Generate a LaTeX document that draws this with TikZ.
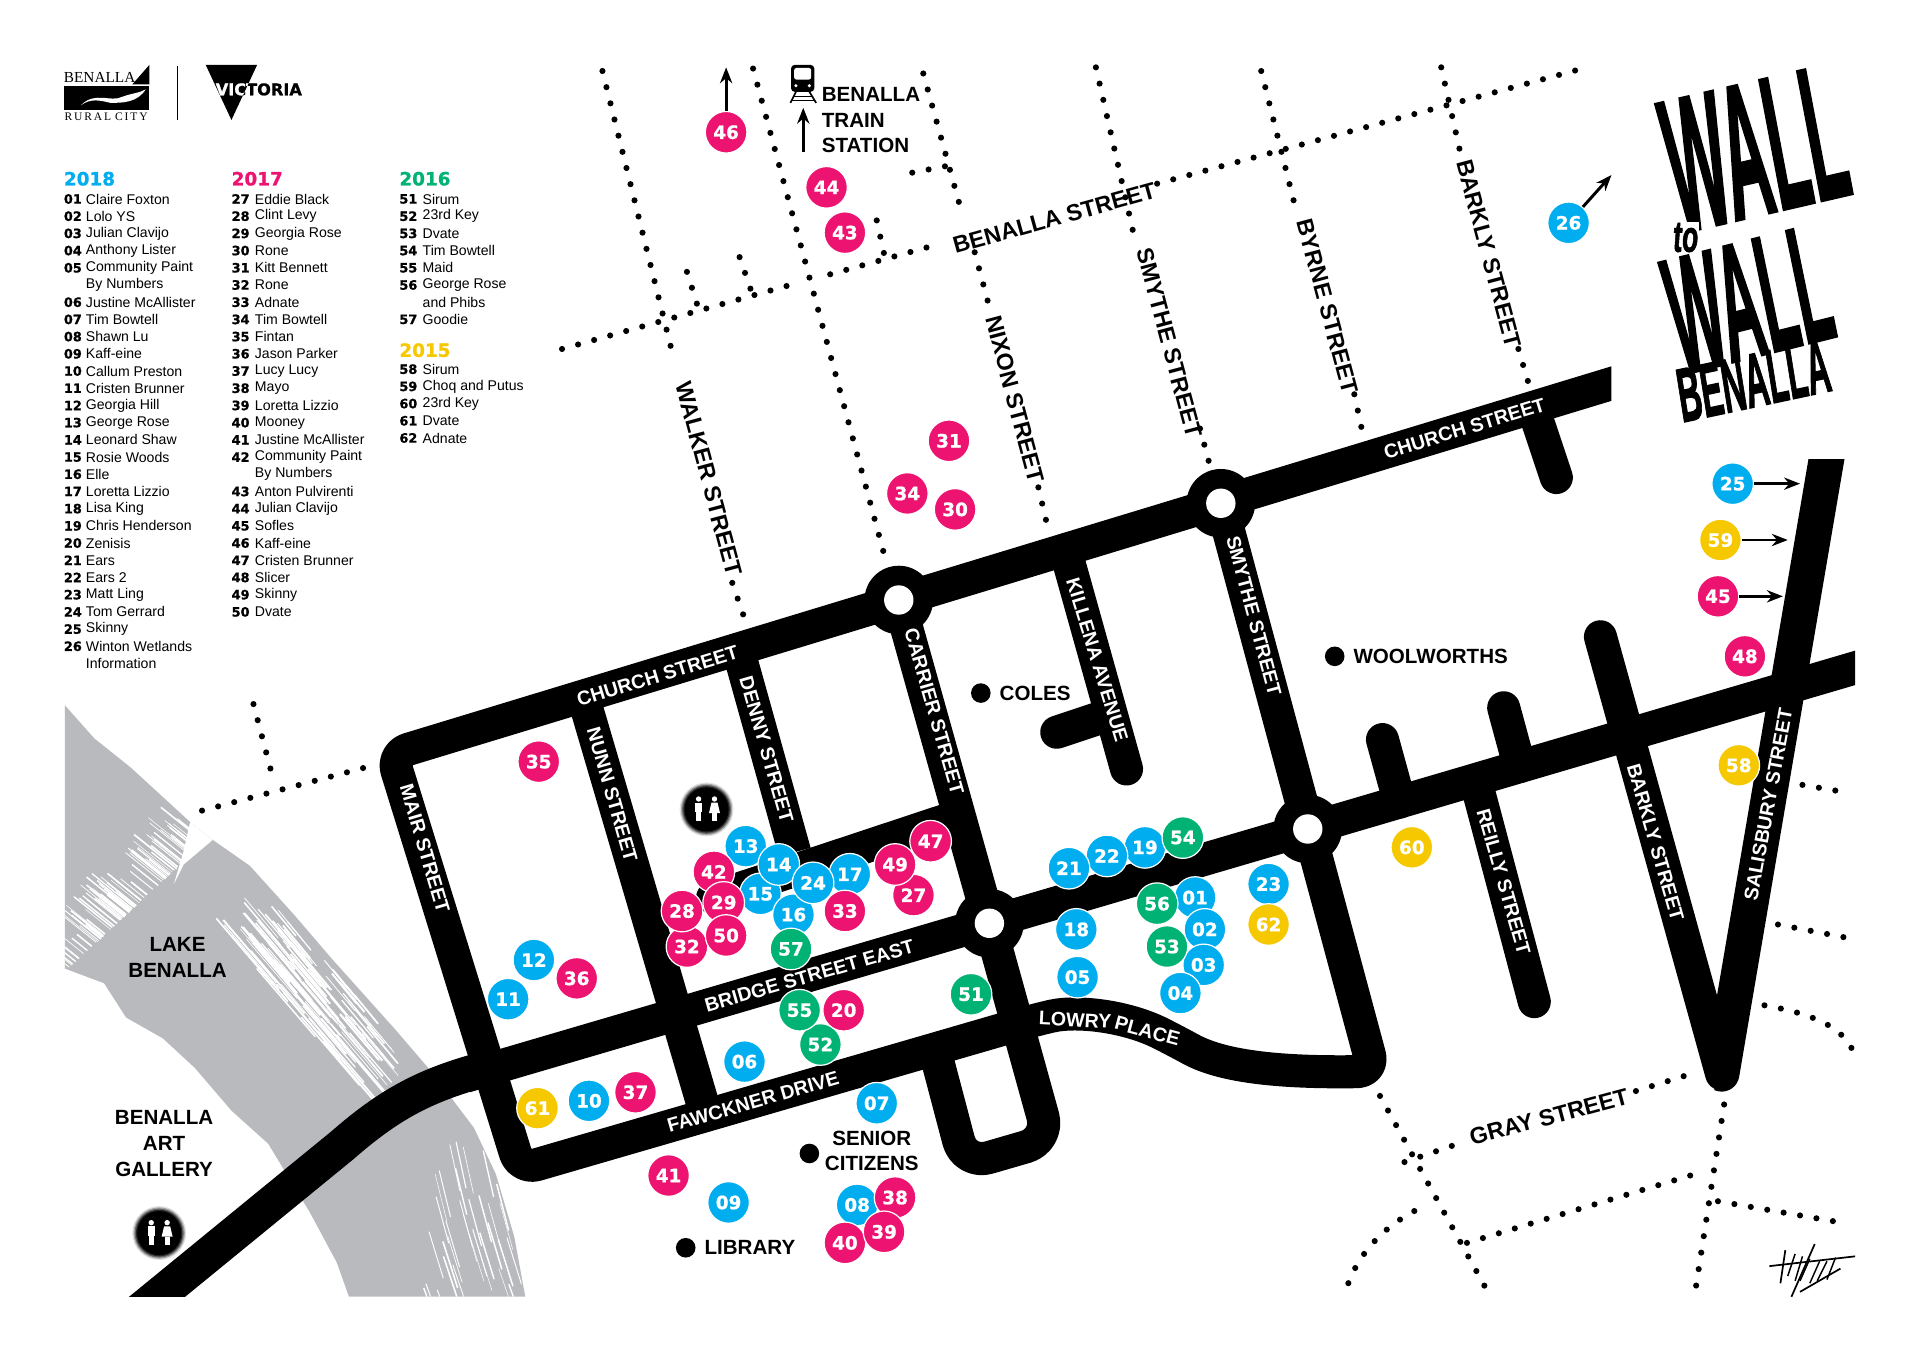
\documentclass[tikz,border=0pt]{standalone}
\usepackage{fontspec}
\usetikzlibrary{arrows.meta}
\setmainfont{Liberation Sans}
\newfontfamily\numfont[FakeBold=1]{DejaVu Sans}
\newfontfamily\brushfont[FakeSlant=0.12,FakeBold=2]{Liberation Sans}
\definecolor{blueyear}{HTML}{00AEEF}
\definecolor{pinkyear}{HTML}{ED1370}
\definecolor{greenyear}{HTML}{00B274}
\definecolor{yellowyear}{HTML}{F5C800}
\definecolor{lakegrey}{HTML}{B9BABD}
\newcommand{\sz}[1]{\fontsize{#1}{#1}\selectfont}
\tikzset{
  road/.style={line width=27pt,line join=round},
  roadend/.style={road,line cap=round},
  dotroad/.style={line width=5pt,line cap=round,dash pattern=on 0pt off 13.6pt},
  numtag/.style={circle,minimum size=34pt,inner sep=0pt,draw=white,line width=1pt,text=white,font=\numfont\bfseries\sz{15}},
  legnum/.style={anchor=west,inner sep=0pt,font=\numfont\bfseries\sz{10.5}},
  legname/.style={anchor=west,inner sep=0pt,font=\sz{11.5}},
  legyear/.style={anchor=west,inner sep=0pt,font=\numfont\bfseries\sz{15}},
  whitelabel/.style={text=white,inner sep=0pt,font=\bfseries\sz{16}},
  blacklabel/.style={inner sep=0pt,font=\bfseries\sz{19}},
  placelabel/.style={inner sep=0pt,align=center,font=\bfseries\sz{16.8}},
  placedot/.style={circle,fill=black,minimum size=16pt,inner sep=0pt},
  pointer/.style={line width=2.4pt,-{Stealth[length=13pt,width=10pt]}},
  brush/.style={inner sep=0pt,font=\brushfont\bfseries},
  toilet/.pic={
    \foreach \r/\o in {22/.12,21/.25,20/.4,19/.6,18/1}{
      \fill[black,opacity=\o] (0,0) circle (\r);
    }
    \fill[white] (-6.5,-8.5) circle (2.2);
    \fill[white] (-9.5,-5.5) rectangle (-3.5,2);
    \fill[white] (-8.5,2) rectangle (-4.5,9.5);
    \fill[white] (6.5,-8.5) circle (2.2);
    \fill[white] (4,-5.5) -- (9,-5.5) -- (11,3) -- (2,3) -- cycle;
    \fill[white] (4.5,3) rectangle (8.5,9.5);
  }
}
\begin{document}
\begin{tikzpicture}[x=1pt,y=-1pt]
\useasboundingbox (0,0) rectangle (1568,1112.3);

% lake
\begin{scope}
  \clip (53,576) -- (77,603) -- (107,627) -- (156,672) -- (171,684) -- (204,707) -- (241,748) -- (271,783) -- (323,841) -- (353,876) -- (387,921) -- (405,959) -- (420,1010) -- (429,1059) -- (285,1059) -- (275,1031) -- (253,990) -- (219,934) -- (189,907) -- (159,872) -- (133,848) -- (103,831) -- (85,803) -- (53,791) -- cycle;
  \fill[lakegrey] (0,500) rectangle (500,1100);
  \pgfmathsetseed{11}
  \fill[white] (156,668) -- (176,684) -- (150,706) -- (142,722) -- (150,695) -- cycle;
  \foreach \k in {1,...,95}{
    \pgfmathsetmacro{\t}{rnd}
    \pgfmathsetmacro{\u}{rnd}
    \pgfmathsetmacro{\w}{0.4+1*rnd}
    \pgfmathsetmacro{\l}{12+24*rnd}
    \draw[white,line width=\w pt] ({166-112*\t+10*\u},{688+104*\t-8*\u}) -- ++({-\l},{-0.8*\l});
  }
  \foreach \k in {1,...,110}{
    \pgfmathsetmacro{\t}{rnd}
    \pgfmathsetmacro{\u}{rnd}
    \pgfmathsetmacro{\w}{0.5+1.1*rnd}
    \draw[white,line width=\w pt] ({212+100*\t-40*\u},{725+110*\t+25*\u}) -- ++({18+30*\u},{22+34*\u});
  }
  \foreach \k in {1,...,40}{
    \pgfmathsetmacro{\t}{rnd}
    \pgfmathsetmacro{\u}{rnd}
    \pgfmathsetmacro{\w}{0.4+0.9*rnd}
    \draw[white,line width=\w pt] ({345+80*\t},{930+125*\u}) -- ++({8+6*\u},{38});
  }
\end{scope}

% roads
\begin{scope}
  \clip (0,0) rectangle (1515,1059);
  \draw[road,line width=29pt] (400,872) .. controls (350,885) and (320,900) .. (280,935) -- (110,1074);
  \draw[road] (380,879) -- (1068,677) -- (1530,541);
  \draw[road] (476,568) -- (577,912);
  \draw[road] (603,531) -- (649,696);
  \draw[roadend] (582,733) -- (772,670);
  \draw[road] (734,490) -- (808,754);
  \draw[road,rounded corners=20pt] (808,754) -- (857,931) -- (788,951) -- (764,860);
  \draw[roadend] (870,449) -- (920,628);
  \draw[roadend] (863,598) -- (905,584);
  \draw[roadend] (1129,604) -- (1143,655);
  \draw[roadend] (1228,578) -- (1241,626);
  \draw[roadend] (1205,637) -- (1253,818);
  \draw[roadend] (1307,520) -- (1406,877);
  \draw[roadend] (1252,333) -- (1271,390);
\end{scope}
\begin{scope}
  \clip (0,0) rectangle (1316,1112);
  \draw[road,rounded corners=14pt] (997,410) -- (1122,875) .. controls (1050,876) and (1000,872) .. (960,850) .. controls (920,830) and (880,825) .. (845,833) -- (425,955) -- (320,616) -- (1330,309);
\end{scope}
\begin{scope}
  \clip (1400,375.5) rectangle (1568,1000);
  \draw[roadend,line width=29pt] (1495,355) -- (1406,877);
\end{scope}
\foreach \px/\py in {734/490,997/411,1068/677,808/754}{
  \fill[black] (\px,\py) circle (28);
  \fill[white] (\px,\py) circle (12);
}

% dotted streets
\draw[dotroad] (459,285) -- (648,232);
\draw[dotroad] (678,224) -- (768,199);
\draw[dotroad] (945,150) -- (1296,55);
\draw[dotroad] (492,58) -- (550,292);
\draw[dotroad] (598,476) -- (608,505);
\draw[dotroad] (615,56) -- (724,460);
\draw[dotroad] (754,60) -- (785,172);
\draw[dotroad] (796,206) -- (808,251);
\draw[dotroad] (848,398) -- (855,428);
\draw[dotroad] (895,55) -- (926,192);
\draw[dotroad] (980,350) -- (988,380);
\draw[dotroad] (1030,58) -- (1058,170);
\draw[dotroad] (1106,322) -- (1112,350);
\draw[dotroad] (1177,55) -- (1192,122);
\draw[dotroad] (1240,285) -- (1248,312);
\draw[dotroad] (604,210) -- (615,242);
\draw[dotroad] (561,222) -- (571,254);
\draw[dotroad] (716,180) -- (723,212);
\draw[dotroad] (745,141) -- (776,135);
\draw[dotroad] (165,662) -- (305,625);
\draw[dotroad] (207,575) -- (222,632);
\draw[dotroad] (1472,641) -- (1507,647);
\draw[dotroad] (1452,755) -- (1509,766);
\draw[dotroad] (1441,821) .. controls (1480,828) and (1505,838) .. (1514,860);
\draw[dotroad] (1127,895) -- (1215,1055);
\draw[dotroad] (1147,949) -- (1191,934);
\draw[dotroad] (1336,891) -- (1381,877);
\draw[dotroad] (1408,902) -- (1385,1051);
\draw[dotroad] (1198,1015) -- (1387,958);
\draw[dotroad] (1403,981) -- (1507,999);
\draw[dotroad] (1155,989) .. controls (1125,1005) and (1105,1030) .. (1098,1058);

% street names on the roads
\node[whitelabel,rotate=17] (church1) at (537,552) {CHURCH STREET};
\node[whitelabel,rotate=17] (church2) at (1196,350) {CHURCH STREET};
\node[whitelabel,rotate=-73.5] (mair) at (347,693) {MAIR STREET};
\node[whitelabel,rotate=-74] (nunn) at (500,649) {NUNN STREET};
\node[whitelabel,rotate=-74] (denny) at (626,612) {DENNY STREET};
\node[whitelabel,rotate=-74] (carrier) at (763,581) {CARRIER STREET};
\node[whitelabel,rotate=-73] (killena) at (896,539) {KILLENA AVENUE};
\node[whitelabel,rotate=-75] (smythe1) at (1024,503) {SMYTHE STREET};
\node[whitelabel,rotate=-74] (reilly) at (1228,720) {REILLY STREET};
\node[whitelabel,rotate=-74] (barkly1) at (1352,688) {BARKLY STREET};
\node[whitelabel,rotate=79.5] (salisbury) at (1444,657) {SALISBURY STREET};
\node[whitelabel,rotate=16] (bridge) at (661,797) {BRIDGE STREET EAST};
\node[whitelabel,rotate=16] (fawckner) at (615,900) {FAWCKNER DRIVE};
\node[whitelabel,rotate=-3] (lowry) at (878,833) {LOWRY};
\node[whitelabel,rotate=-15] (place) at (937,842) {PLACE};

% street names beside the dots
\node[blacklabel,rotate=15.5] (benallast) at (861,178) {BENALLA STREET};
\node[blacklabel,rotate=-75] (walker) at (579,391) {WALKER STREET};
\node[blacklabel,rotate=-75] (nixon) at (829,326) {NIXON STREET};
\node[blacklabel,rotate=-75] (smythe2) at (955,280) {SMYTHE STREET};
\node[blacklabel,rotate=-75] (byrne) at (1084,250) {BYRNE STREET};
\node[blacklabel,rotate=-75] (barkly2) at (1216,207) {BARKLY STREET};
\node[blacklabel,rotate=15] (gray) at (1265,912) {GRAY STREET};

% places
\node[placelabel] (lake) at (145,782) {LAKE\\[4.2pt]BENALLA};
\node[placelabel] (gallery) at (134,934) {BENALLA\\[4.2pt]ART\\[4.2pt]GALLERY};
\node[placedot] (colesdot) at (801,566) {};
\node[placelabel,right=7pt] (coles) at (colesdot.east) {COLES};
\node[placedot] (woolsdot) at (1090,536) {};
\node[placelabel,right=7pt] (wools) at (woolsdot.east) {WOOLWORTHS};
\node[placedot] (seniordot) at (661,942) {};
\node[placelabel] (senior) at (712,940) {SENIOR\\[4.2pt]CITIZENS};
\node[placedot] (librarydot) at (560,1019) {};
\node[placelabel,right=7pt] (library) at (librarydot.east) {LIBRARY};
\node[placelabel,align=left,anchor=north west] (station) at (671,71) {BENALLA\\[4.2pt]TRAIN\\[4.2pt]STATION};
\pic at (577,661) {toilet};
\pic at (130,1007) {toilet};

% train
\fill[black,rounded corners=3pt] (646,53) rectangle (665,75);
\fill[white,rounded corners=2pt] (648.5,55.5) rectangle (662.5,65);
\fill[white] (650,70) circle (1.4);
\fill[white] (661,70) circle (1.4);
\draw[line width=1.4pt] (650,75) -- (645.5,84);
\draw[line width=1.4pt] (661,75) -- (666.5,84);
\draw[line width=1.2pt] (648,79) -- (663,79);
\draw[line width=1.2pt] (646.5,82) -- (664.5,82);

% numbered walls, later ones lie on top
\foreach \num/\col/\px/\py in {13/blue/609/691,15/blue/621/730,14/blue/636/706,16/blue/648/747,17/blue/694/714,24/blue/664/721,
  33/pink/690/744,42/pink/583/712,32/pink/561/773,29/pink/591/737,28/pink/557/744,50/pink/593/764,47/pink/760/687,27/pink/746/731,49/pink/731/706,
  57/green/646/775,52/green/670/853,20/pink/689/825,55/green/653/825,51/green/793/812,
  19/blue/935/692,54/green/966/684,22/blue/904/699,21/blue/873/709,
  01/blue/976/733,56/green/945/738,02/blue/984/759,03/blue/983/788,53/green/953/773,04/blue/964/811,18/blue/879/759,05/blue/880/798,
  23/blue/1036/722,62/yellow/1036/755,06/blue/608/867,07/blue/716/901,09/blue/595/982,10/blue/481/899,11/blue/415/816,12/blue/436/784,
  08/blue/700/984,38/pink/731/978,40/pink/690/1015,39/pink/722/1006,25/blue/1415/395,26/blue/1281/182,
  30/pink/780/416,31/pink/775/360,34/pink/741/403,35/pink/440/622,36/pink/471/799,37/pink/519/892,41/pink/546/960,
  43/pink/690/190,44/pink/675/153,45/pink/1403/487,46/pink/593/108,48/pink/1425/536,
  58/yellow/1420/625,59/yellow/1405/441,60/yellow/1153/692,61/yellow/439/905}{
  \node[numtag,fill=\col year] (c\num) at (\px,\py) {\num};
}
\coordinate (t25) at (1470,395);
\coordinate (t59) at (1460,441);
\coordinate (t45) at (1456,487);
\coordinate (t26) at (1316,143);
\coordinate (t46) at (593,55);
\coordinate (trainfoot) at (656,124);
\coordinate (trainhead) at (656,88);
\draw[pointer] (c25) -- (t25);
\draw[pointer] (c59) -- (t59);
\draw[pointer] (c45) -- (t45);
\draw[pointer] (c26) -- (t26);
\draw[pointer] (c46) -- (t46);
\draw[pointer] (trainfoot) -- (trainhead);

% legend
\node[legyear,text=blueyear] (y18) at (52,146) {2018};
\node[legyear,text=pinkyear] (y17) at (189,146) {2017};
\node[legyear,text=greenyear] (y16) at (326,146) {2016};
\node[legyear,text=yellowyear] (y15) at (326,286) {2015};
\foreach \num/\who [count=\i from 0] in {01/Claire Foxton,02/Lolo YS,03/Julian Clavijo,04/Anthony Lister,05/Community Paint,/By Numbers,06/Justine McAllister,07/Tim Bowtell,08/Shawn Lu,09/Kaff-eine,10/Callum Preston,11/Cristen Brunner,12/Georgia Hill,13/George Rose,14/Leonard Shaw,15/Rosie Woods,16/Elle,17/Loretta Lizzio,18/Lisa King,19/Chris Henderson,20/Zenisis,21/Ears,22/Ears 2,23/Matt Ling,24/Tom Gerrard,25/Skinny,26/Winton Wetlands,/Information}{
  \node[legnum] (an\i) at (52,{162.5+14.05*\i}) {\num};
  \node[legname] (aw\i) at (70,{162.5+14.05*\i}) {\who};
}
\foreach \num/\who [count=\i from 0] in {27/Eddie Black,28/Clint Levy,29/Georgia Rose,30/Rone,31/Kitt Bennett,32/Rone,33/Adnate,34/Tim Bowtell,35/Fintan,36/Jason Parker,37/Lucy Lucy,38/Mayo,39/Loretta Lizzio,40/Mooney,41/Justine McAllister,42/Community Paint,/By Numbers,43/Anton Pulvirenti,44/Julian Clavijo,45/Sofles,46/Kaff-eine,47/Cristen Brunner,48/Slicer,49/Skinny,50/Dvate}{
  \node[legnum] (bn\i) at (189,{162.5+14.05*\i}) {\num};
  \node[legname] (bw\i) at (208,{162.5+14.05*\i}) {\who};
}
\foreach \num/\who [count=\i from 0] in {51/Sirum,52/23rd Key,53/Dvate,54/Tim Bowtell,55/Maid,56/George Rose,/and Phibs,57/Goodie}{
  \node[legnum] (cn\i) at (326,{162.5+14.05*\i}) {\num};
  \node[legname] (cw\i) at (345,{162.5+14.05*\i}) {\who};
}
\foreach \num/\who [count=\i from 0] in {58/Sirum,59/Choq and Putus,60/23rd Key,61/Dvate,62/Adnate}{
  \node[legnum] (dn\i) at (326,{301.5+14.05*\i}) {\num};
  \node[legname] (dw\i) at (345,{301.5+14.05*\i}) {\who};
}

% logos
\node[inner sep=0pt,anchor=west,font=\fontspec{Liberation Serif}\sz{12.5}] (rural1) at (52,63) {BENALLA};
\fill[black] (108,69) -- (122,53) -- (122,69) -- cycle;
\fill[black] (52.5,70.5) rectangle (122,89.5);
\fill[white] (66,86) .. controls (78,74) and (90,84) .. (100,79) .. controls (108,76) and (114,76) .. (119,73) .. controls (112,84) and (100,84) .. (90,84) .. controls (82,82) and (74,80) .. (66,86) -- cycle;
\node[inner sep=0pt,anchor=west,font=\fontspec{Liberation Serif}\sz{9.4}] (rural2) at (52.5,95) {R\,U\,R\,A\,L\,\,C\,I\,T\,Y};
\draw[line width=1.5pt] (145,54) -- (145,98);
\fill[black] (168,53) -- (210,53) -- (189,98) -- cycle;
\node[inner sep=0pt,anchor=west,font=\numfont\bfseries\sz{13.2}] (vic) at (176,73) {VICTORIA};
\begin{scope}
  \clip (168,53) -- (210,53) -- (189,98) -- cycle;
  \node[inner sep=0pt,anchor=west,text=white,font=\numfont\bfseries\sz{13.2}] (vicwhite) at (176,73) {VICTORIA};
\end{scope}

% title
\node[brush,rotate=13] (wall1) at (1431,122) {\scalebox{0.52}[1.55]{\sz{100}WALL}};
\node[brush,rotate=14] (wall2) at (1426,245) {\scalebox{0.47}[1.35]{\sz{100}WALL}};
\node[brush,fill=white,inner sep=1pt] (to) at (1376,194) {\scalebox{0.9}[1.5]{\sz{24}to}};
\node[brush,rotate=12] (benallatitle) at (1431,311) {\scalebox{0.66}[1.55]{\sz{40}BENALLA}};

% signature
\draw[line width=1.4pt] (1445,1034) -- (1515,1026);
\draw[line width=1.4pt] (1470,1055) -- (1503,1036);
\draw[line width=1.4pt] (1458,1021) -- (1454,1048);
\draw[line width=1.4pt] (1482,1016) -- (1463,1059);
\draw[line width=1.2pt] (1466,1024) -- (1460,1042);
\draw[line width=1.2pt] (1472,1026) -- (1466,1046);
\draw[line width=1.2pt] (1478,1028) -- (1470,1046);
\draw[line width=1.2pt] (1486,1030) -- (1478,1048);
\draw[line width=1.2pt] (1492,1030) -- (1484,1046);
\draw[line width=1.2pt] (1499,1027) -- (1492,1045);
\end{tikzpicture}
\end{document}
